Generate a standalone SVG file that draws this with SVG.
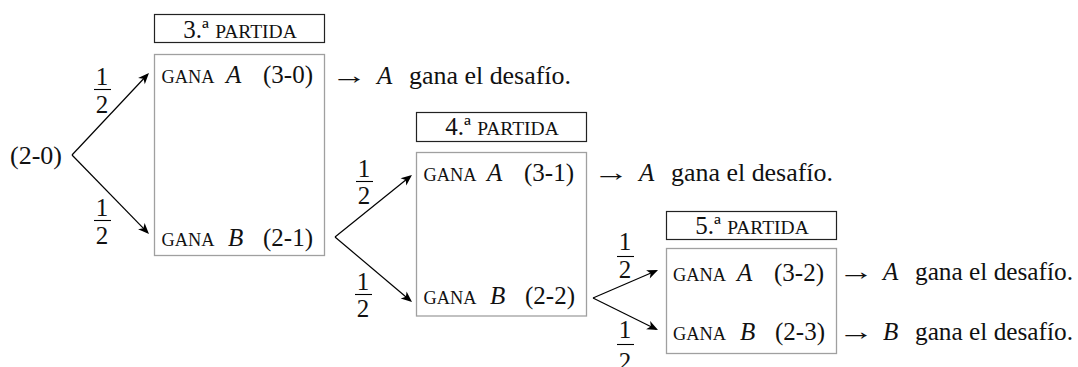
<svg xmlns="http://www.w3.org/2000/svg" width="1078" height="367" viewBox="0 0 1078 367">
<defs>
<style>
text{font-family:'Liberation Serif','Times New Roman',serif;fill:#111}
.t{font-size:25px}
.sc{font-size:18.5px}
.sh{font-size:19.5px}
.it{font-size:25px;font-style:italic}
.hdr{fill:#fff;stroke:#222;stroke-width:1.2}
.box{fill:none;stroke:#a0a0a0;stroke-width:1.3}
.conn line{stroke:#000;stroke-width:1.2}
.fl{stroke:#000;stroke-width:1.1}
.c{text-anchor:middle}
</style>
<marker id="ah" viewBox="-10 -6 13 12" refX="0" refY="0" markerWidth="13" markerHeight="12" markerUnits="userSpaceOnUse" orient="auto">
<path d="M2,0 L-9,-4.6 L-6,0 L-9,4.6 z" fill="#000"/>
</marker>
</defs>
<rect width="1078" height="367" fill="#fff"/>

<g id="connectors" class="conn">
<line x1="72" y1="155" x2="147.6" y2="74.5" marker-end="url(#ah)"/>
<line x1="72" y1="155" x2="147.6" y2="232.6" marker-end="url(#ah)"/>
<line x1="335" y1="237" x2="410.4" y2="176.3" marker-end="url(#ah)"/>
<line x1="335" y1="237" x2="410.5" y2="300.7" marker-end="url(#ah)"/>
<line x1="593" y1="298" x2="656.2" y2="270.8" marker-end="url(#ah)"/>
<line x1="593" y1="298" x2="656.2" y2="329.2" marker-end="url(#ah)"/>
</g>

<g id="probabilities">
<g id="p1">
<text class="t c" x="102" y="85">1</text><line class="fl" x1="94" y1="89.5" x2="111" y2="89.5"/><text class="t c" x="102" y="113">2</text>
</g>
<g id="p2">
<text class="t c" x="102" y="216">1</text><line class="fl" x1="94" y1="220.5" x2="111" y2="220.5"/><text class="t c" x="102" y="244">2</text>
</g>
<g id="p3">
<text class="t c" x="364" y="177">1</text><line class="fl" x1="356" y1="181.5" x2="373" y2="181.5"/><text class="t c" x="364" y="204">2</text>
</g>
<g id="p4">
<text class="t c" x="363" y="290">1</text><line class="fl" x1="355" y1="294.5" x2="372" y2="294.5"/><text class="t c" x="363" y="317">2</text>
</g>
<g id="p5">
<text class="t c" x="625" y="250">1</text><line class="fl" x1="617" y1="256.5" x2="634" y2="256.5"/><text class="t c" x="625" y="278">2</text>
</g>
<g id="p6">
<text class="t c" x="625" y="338">1</text><line class="fl" x1="617" y1="344.5" x2="634" y2="344.5"/><text class="t c" x="625" y="370">2</text>
</g>
</g>

<g id="start">
<text class="t" x="10" y="164" textLength="52" lengthAdjust="spacingAndGlyphs">(2-0)</text>
</g>

<g id="partida3">
<rect class="hdr" x="154.5" y="14.5" width="170" height="28"/>
<text class="t c" x="240" y="38">3.ª <tspan class="sh">PARTIDA</tspan></text>
<rect class="box" x="154.5" y="54.5" width="170" height="201"/>
<text class="sc" x="161.5" y="83" textLength="53" lengthAdjust="spacingAndGlyphs">GANA</text>
<text class="it" x="226" y="83">A</text>
<text class="t" x="263" y="83">(3-0)</text>
<text class="sc" x="161.5" y="246" textLength="53" lengthAdjust="spacingAndGlyphs">GANA</text>
<text class="it" x="228" y="246">B</text>
<text class="t" x="263" y="246">(2-1)</text>
</g>

<g id="result1">
<text class="t" transform="translate(331,84) scale(1.45,1)">→</text>
<text class="it" x="377" y="84">A</text>
<text class="t" x="409" y="84" textLength="162" lengthAdjust="spacingAndGlyphs">gana el desafío.</text>
</g>

<g id="partida4">
<rect class="hdr" x="416.5" y="112.5" width="170" height="29"/>
<text class="t c" x="502" y="135">4.ª <tspan class="sh">PARTIDA</tspan></text>
<rect class="box" x="416.5" y="152.5" width="170" height="163.5"/>
<text class="sc" x="423.5" y="181" textLength="53" lengthAdjust="spacingAndGlyphs">GANA</text>
<text class="it" x="487" y="181">A</text>
<text class="t" x="524" y="181">(3-1)</text>
<text class="sc" x="423.5" y="304" textLength="53" lengthAdjust="spacingAndGlyphs">GANA</text>
<text class="it" x="490" y="304">B</text>
<text class="t" x="525" y="304">(2-2)</text>
</g>

<g id="result2">
<text class="t" transform="translate(593,181) scale(1.45,1)">→</text>
<text class="it" x="639" y="181">A</text>
<text class="t" x="671" y="181" textLength="162" lengthAdjust="spacingAndGlyphs">gana el desafío.</text>
</g>

<g id="partida5">
<rect class="hdr" x="666.5" y="211.5" width="170" height="28"/>
<text class="t c" x="752" y="234">5.ª <tspan class="sh">PARTIDA</tspan></text>
<rect class="box" x="666.5" y="248.5" width="170" height="105"/>
<text class="sc" x="673" y="281" textLength="53" lengthAdjust="spacingAndGlyphs">GANA</text>
<text class="it" x="737" y="281">A</text>
<text class="t" x="774" y="281">(3-2)</text>
<text class="sc" x="673" y="340" textLength="53" lengthAdjust="spacingAndGlyphs">GANA</text>
<text class="it" x="740" y="340">B</text>
<text class="t" x="775" y="340">(2-3)</text>
</g>

<g id="result3">
<text class="t" transform="translate(838,280) scale(1.45,1)">→</text>
<text class="it" x="883" y="280">A</text>
<text class="t" x="915" y="280" textLength="158" lengthAdjust="spacingAndGlyphs">gana el desafío.</text>
</g>

<g id="result4">
<text class="t" transform="translate(838,340) scale(1.45,1)">→</text>
<text class="it" x="883" y="340">B</text>
<text class="t" x="915" y="340" textLength="158" lengthAdjust="spacingAndGlyphs">gana el desafío.</text>
</g>
</svg>
